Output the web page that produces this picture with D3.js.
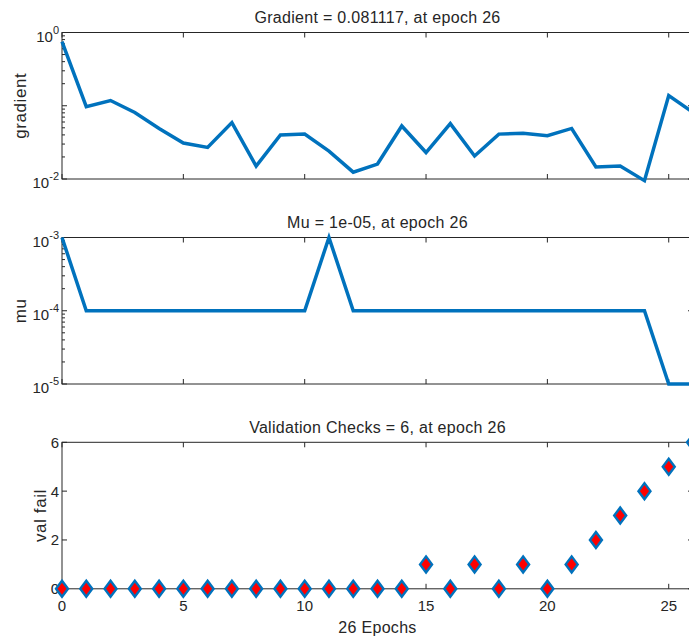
<!DOCTYPE html>
<html>
<head>
<meta charset="utf-8">
<script src="https://cdn.jsdelivr.net/npm/d3@7"></script>
<style>
  body { margin: 0; background: #fff; }
  text { font-family: "Liberation Sans", Arial, sans-serif; fill: #262626; }
</style>
</head>
<body>
<div id="chart"></div>
<script>
////////// DATA //////////
const epochs = d3.range(0, 27)
const gradientValues = [0.75, 0.097, 0.118, 0.081, 0.049, 0.031, 0.027, 0.059, 0.015, 0.040,
  0.041, 0.024, 0.0124, 0.016, 0.053, 0.023, 0.057, 0.0206, 0.041, 0.042,
  0.039, 0.049, 0.0146, 0.015, 0.0095, 0.138, 0.081117]
const muValues = [1e-3, 1e-4, 1e-4, 1e-4, 1e-4, 1e-4, 1e-4, 1e-4, 1e-4, 1e-4,
  1e-4, 1e-3, 1e-4, 1e-4, 1e-4, 1e-4, 1e-4, 1e-4, 1e-4, 1e-4,
  1e-4, 1e-4, 1e-4, 1e-4, 1e-4, 1e-5, 1e-5]
const valFailValues = [0, 0, 0, 0, 0, 0, 0, 0, 0, 0, 0, 0, 0, 0, 0, 1, 0, 1, 0, 1, 0, 1, 2, 3, 4, 5, 6]
const xTicks = [0, 5, 10, 15, 20, 25]
const panelTitles = ['Gradient = 0.081117, at epoch 26', 'Mu = 1e-05, at epoch 26', 'Validation Checks = 6, at epoch 26']
const panelLabels = ['gradient', 'mu', 'val fail']
const gradientTicks = [-2, 0]       // exponents
const muTicks = [-5, -4, -3]        // exponents
const valFailTicks = [0, 2, 4, 6]

////////// LAYOUT //////////
const width = 689, height = 640
const left = 62, right = 693
const panelTop = [32.5, 237.5, 442.3]
const panelH = 146.5
const axisColor = '#262626'
const lineColor = '#0072BD'

const svg = d3.select('#chart').append('svg')
  .attr('width', width).attr('height', height)

const x = d3.scaleLinear().domain([0, 26]).range([left, right])

function panelFrame(i, y) {
  let top = panelTop[i], bottom = top + panelH
  let g = svg.append('g')
  // box
  g.append('rect').attr('x', left).attr('y', top).attr('width', right - left).attr('height', panelH)
    .attr('fill', 'none').attr('stroke', axisColor).attr('stroke-width', 1)
  // x ticks, inward top and bottom
  for (let t of xTicks) {
    g.append('line').attr('x1', x(t)).attr('x2', x(t)).attr('y1', bottom).attr('y2', bottom - 5).attr('stroke', axisColor)
    g.append('line').attr('x1', x(t)).attr('x2', x(t)).attr('y1', top).attr('y2', top + 5).attr('stroke', axisColor)
  }
  // title
  g.append('text').attr('x', (left + right) / 2).attr('y', top - 9.5)
    .attr('text-anchor', 'middle').style('font-size', '16px').style('letter-spacing', '0.3px')
    .text(panelTitles[i])
  // y label
  let labelX = i == 2 ? 46 : 26
  g.append('text').attr('transform', 'translate(' + labelX + ',' + (top + panelH / 2) + ') rotate(-90)')
    .attr('text-anchor', 'middle').style('font-size', '17px').style('letter-spacing', '0.6px')
    .text(panelLabels[i])
  return g
}

function logTicks(g, y, exps) {
  let [lo, hi] = d3.extent(exps)
  for (let e = lo; e <= hi; e++) {
    for (let m = 1; m < 10; m++) {
      let v = m * Math.pow(10, e)
      if (v > Math.pow(10, hi)) break
      let len = m == 1 ? 5 : 3
      g.append('line').attr('x1', left).attr('x2', left + len).attr('y1', y(v)).attr('y2', y(v)).attr('stroke', axisColor)
      g.append('line').attr('x1', right).attr('x2', right - len).attr('y1', y(v)).attr('y2', y(v)).attr('stroke', axisColor)
    }
  }
  for (let e of exps) {
    let t = g.append('text').attr('x', 59).attr('y', y(Math.pow(10, e)) + 9)
      .attr('text-anchor', 'end').style('font-size', '15px')
    t.append('tspan').text('10')
    t.append('tspan').attr('dy', -8).style('font-size', '11px').text(e)
  }
}

////////// PANEL 1: GRADIENT //////////
const yGrad = d3.scaleLog().domain([1e-2, 1]).range([panelTop[0] + panelH, panelTop[0]])
let g1 = panelFrame(0, yGrad)
logTicks(g1, yGrad, gradientTicks)
g1.append('path').datum(epochs)
  .attr('d', d3.line().x(d => x(d)).y(d => yGrad(gradientValues[d])))
  .attr('fill', 'none').attr('stroke', lineColor).attr('stroke-width', 3.5)

////////// PANEL 2: MU //////////
const yMu = d3.scaleLog().domain([1e-5, 1e-3]).range([panelTop[1] + panelH, panelTop[1]])
let g2 = panelFrame(1, yMu)
logTicks(g2, yMu, muTicks)
g2.append('path').datum(epochs)
  .attr('d', d3.line().x(d => x(d)).y(d => yMu(muValues[d])))
  .attr('fill', 'none').attr('stroke', lineColor).attr('stroke-width', 3.5)

////////// PANEL 3: VALIDATION CHECKS //////////
const yVal = d3.scaleLinear().domain([0, 6]).range([panelTop[2] + panelH, panelTop[2]])
let g3 = panelFrame(2, yVal)
for (let t of valFailTicks) {
  g3.append('line').attr('x1', left).attr('x2', left + 5).attr('y1', yVal(t)).attr('y2', yVal(t)).attr('stroke', axisColor)
  g3.append('line').attr('x1', right).attr('x2', right - 5).attr('y1', yVal(t)).attr('y2', yVal(t)).attr('stroke', axisColor)
  g3.append('text').attr('x', 59).attr('y', yVal(t) + 5.5).attr('text-anchor', 'end')
    .style('font-size', '15px').text(t)
}
for (let t of xTicks) {
  g3.append('text').attr('x', x(t)).attr('y', panelTop[2] + panelH + 22).attr('text-anchor', 'middle')
    .style('font-size', '15px').text(t)
}
g3.append('text').attr('x', (left + right) / 2).attr('y', 633).attr('text-anchor', 'middle')
  .style('font-size', '16px').style('letter-spacing', '0.3px').text('26 Epochs')

// diamond markers (taller than wide, like matlab)
function diamond(w, h) {
  let p = d3.path()
  p.moveTo(0, -h / 2); p.lineTo(w / 2, 0); p.lineTo(0, h / 2); p.lineTo(-w / 2, 0); p.closePath()
  return p.toString()
}
g3.selectAll('.valPt').data(epochs).enter().append('path').attr('class', 'valPt')
  .attr('d', diamond(12, 16))
  .attr('transform', d => 'translate(' + x(d) + ',' + yVal(valFailValues[d]) + ')')
  .attr('fill', '#FF0000').attr('stroke', lineColor).attr('stroke-width', 2.4)
</script>
</body>
</html>
